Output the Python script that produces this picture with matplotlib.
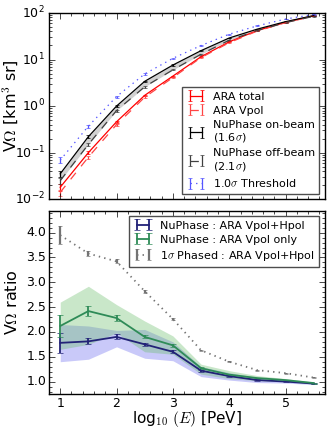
import numpy as np
import matplotlib
matplotlib.use("Agg")
import matplotlib.pyplot as plt
from matplotlib.ticker import AutoMinorLocator, MultipleLocator

plt.style.use('classic')

#%% data
logE = [1.0, 1.5, 2.0, 2.5, 3.0, 3.5, 4.0, 4.5, 5.0, 5.5]

# top panel: effective volume [km^3 sr]
ara_total = [0.018, 0.10, 0.46, 1.7, 4.4, 11.5, 24, 42, 63, 87]
ara_vpol = [0.014, 0.08, 0.40, 1.55, 4.1, 11.0, 23, 41, 62, 86]
nup_on = [0.035, 0.22, 1.0, 3.4, 7.6, 15.5, 29, 45, 65, 88]
nup_off = [0.025, 0.15, 0.80, 2.6, 6.0, 13.0, 26, 42, 62, 85]
thresh = [0.069, 0.37, 1.6, 4.9, 10.6, 20, 35, 53, 74, 93]
rel_err = [0.15, 0.08, 0.05, 0.04, 0.03, 0.02, 0.02, 0.02, 0.02, 0.02]

# bottom panel: ratios
r_vh = [1.78, 1.81, 1.90, 1.75, 1.60, 1.22, 1.11, 1.03, 1.00, 0.96]
r_vh_err = [0.20, 0.06, 0.05, 0.03, 0.03, 0.02, 0.02, 0.01, 0.01, 0.01]
r_vh_lo = [1.40, 1.45, 1.70, 1.47, 1.42, 1.10, 1.03, 0.98, 0.97, 0.94]
r_vh_hi = [2.15, 2.12, 2.03, 2.05, 1.80, 1.30, 1.18, 1.08, 1.04, 0.98]

r_v = [2.12, 2.42, 2.28, 1.90, 1.73, 1.27, 1.14, 1.07, 1.03, 0.97]
r_v_err = [0.22, 0.10, 0.06, 0.03, 0.03, 0.02, 0.02, 0.01, 0.01, 0.01]
r_v_lo = [1.65, 1.75, 1.98, 1.60, 1.55, 1.15, 1.06, 1.02, 1.00, 0.95]
r_v_hi = [2.60, 2.92, 2.55, 2.22, 1.92, 1.35, 1.22, 1.12, 1.06, 0.99]

r_thr = [3.95, 3.58, 3.42, 2.82, 2.26, 1.63, 1.40, 1.23, 1.17, 1.08]
r_thr_err = [0.18, 0.05, 0.04, 0.03, 0.02, 0.01, 0.01, 0.01, 0.01, 0.01]

#%% figure
fig = plt.figure(figsize=(3.33, 4.32), dpi=100, facecolor='white')
ax1 = fig.add_axes([0.147, 0.539, 0.829, 0.431])
ax2 = fig.add_axes([0.147, 0.088, 0.829, 0.424])

def yerr(v):
    return np.array(v) * np.array(rel_err)

ax1.fill_between(logE, nup_off, nup_on, color='0.82', lw=0)
ax1.errorbar(logE, ara_total, yerr=yerr(ara_total), color='red', ls='-', lw=0.9,
             capsize=1.5, label='ARA total')
ax1.errorbar(logE, ara_vpol, yerr=yerr(ara_vpol), color='#ff4444', ls='--', lw=0.9,
             capsize=1.5, label='ARA Vpol')
ax1.errorbar(logE, nup_on, yerr=yerr(nup_on), color='black', ls='-', lw=0.9,
             capsize=1.5, label='NuPhase on-beam\n(1.6$\\sigma$)')
ax1.errorbar(logE, nup_off, yerr=yerr(nup_off), color='0.25', ls='--', lw=0.9,
             capsize=1.5, label='NuPhase off-beam\n(2.1$\\sigma$)')
ax1.errorbar(logE, thresh, yerr=yerr(thresh), color='#5555ff', ls=':', lw=0.9,
             capsize=1.5, label='1.0$\\sigma$ Threshold')
ax1.set_yscale('log')
ax1.set_ylim(1e-2, 1e2)
ax1.set_xlim(0.8, 5.7)
ax1.set_xticklabels([])
ax1.xaxis.set_minor_locator(AutoMinorLocator(5))
ax1.set_ylabel('V$\\Omega$ [km$^3$ sr]', fontsize=11.5)
ax1.yaxis.set_label_coords(-0.105, 0.5)
ax1.tick_params(labelsize=9, pad=3)
leg = ax1.legend(loc='lower right', fontsize=8, numpoints=2, handlelength=1.7,
                 labelspacing=0.35, borderpad=0.4, handletextpad=0.7, fancybox=False)
leg.get_frame().set_edgecolor('0.3')

ax2.fill_between(logE, r_vh_lo, r_vh_hi, color='#6666ee', alpha=0.35, lw=0)
ax2.fill_between(logE, r_v_lo, r_v_hi, color='#66bb66', alpha=0.35, lw=0)
ax2.errorbar(logE, r_vh, yerr=r_vh_err, color='#222277', lw=1.3, capsize=2,
             label='NuPhase : ARA Vpol+Hpol')
ax2.errorbar(logE, r_v, yerr=r_v_err, color='#2e8b57', lw=1.3, capsize=2,
             label='NuPhase : ARA Vpol only')
ax2.errorbar(logE, r_thr, yerr=r_thr_err, color='0.45', ls=':', lw=1.3, capsize=1.5,
             elinewidth=1.6, label='1$\\sigma$ Phased : ARA Vpol+Hpol')
ax2.set_xlim(0.8, 5.7)
ax2.set_ylim(0.75, 4.44)
ax2.yaxis.set_major_locator(MultipleLocator(0.5))
ax2.xaxis.set_minor_locator(AutoMinorLocator(5))
ax2.yaxis.set_minor_locator(AutoMinorLocator(5))
ax2.set_ylabel('V$\\Omega$ ratio', fontsize=11.5)
ax2.yaxis.set_label_coords(-0.105, 0.5)
ax2.set_xlabel('log$_{10}$ $(E)$ [PeV]', fontsize=11)
ax2.xaxis.set_label_coords(0.5, -0.08)
ax2.tick_params(labelsize=9, pad=2)
leg2 = ax2.legend(loc='upper right', fontsize=8, numpoints=2, handlelength=1.7,
                  labelspacing=0.35, borderpad=0.4, handletextpad=0.7, fancybox=False)
leg2.get_frame().set_edgecolor('0.3')

fig.savefig('out.png', dpi=100, facecolor='white')
